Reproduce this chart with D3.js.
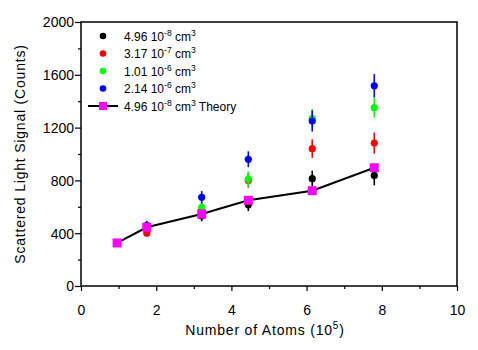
<!DOCTYPE html>
<html>
<head>
<meta charset="utf-8">
<script src="https://cdn.jsdelivr.net/npm/d3@7"></script>
<style>
  body { margin: 0; background: #fff; }
  text { font-family: "Liberation Sans", Arial, sans-serif; }
</style>
</head>
<body>
<svg id="chart"></svg>
<script>
var width = 478;
var height = 350;

// data
var atoms = [1.75, 3.21, 4.45, 6.15, 7.8];
var black = [440, 530, 615, 813, 838];
var blackErr = [30, 40, 48, 60, 75];
var red = [400, 580, 800, 1040, 1083];
var redErr = [25, 40, 55, 70, 80];
var green = [450, 596, 810, 1270, 1351];
var greenErr = [30, 40, 57, 70, 75];
var blue = [460, 672, 960, 1250, 1517];
var blueErr = [35, 47, 60, 80, 88];
var theoryAtoms = [0.96, 1.75, 3.21, 4.45, 6.15, 7.8];
var theory = [326, 445, 545, 649, 722, 896];

var xTicks = [0, 2, 4, 6, 8, 10];
var yTicks = [0, 400, 800, 1200, 1600, 2000];

var series = [
  {name: "4.96", exp: "-8", color: "#000000", vals: black, errs: blackErr},
  {name: "3.17", exp: "-7", color: "#ff0000", vals: red, errs: redErr},
  {name: "1.01", exp: "-6", color: "#00ff00", vals: green, errs: greenErr},
  {name: "2.14", exp: "-6", color: "#0000ff", vals: blue, errs: blueErr}
];

var margin = {left: 81, right: 21, top: 22, bottom: 64};

var svg = d3.select('#chart')
    .attr('width', width)
    .attr('height', height)

var x = d3.scaleLinear().domain([0, 10]).range([margin.left, width - margin.right]);
var y = d3.scaleLinear().domain([0, 2000]).range([height - margin.bottom, margin.top]);

// frame
svg.append('rect')
    .attr('x', x(0)).attr('y', y(2000))
    .attr('width', x(10) - x(0)).attr('height', y(0) - y(2000))
    .style('fill', 'none').style('stroke', 'black').style('stroke-width', 1.5);

// x axis
var xAxis = svg.append('g').attr('transform', 'translate(0,' + y(0) + ')');
xAxis.call(d3.axisBottom(x).tickValues(d3.range(0, 11, 1)).tickSize(5).tickFormat(''));
xAxis.selectAll('.tick line').style('stroke-width', 1.2)
    .attr('y2', function(d){ return d % 2 == 0 ? 5 : 3; });
xAxis.select('.domain').remove();
xAxis.selectAll('.tick')
    .filter(function(d){ return xTicks.indexOf(d) >= 0; })
    .append('text')
    .attr('y', 29).attr('fill', 'black')
    .style('font-size', '14px').style('text-anchor', 'middle')
    .text(function(d){ return d; });

// y axis
var yAxis = svg.append('g').attr('transform', 'translate(' + x(0) + ',0)');
yAxis.call(d3.axisLeft(y).tickValues(d3.range(0, 2001, 200)).tickSize(5).tickFormat(''));
yAxis.selectAll('.tick line').style('stroke-width', 1.2)
    .attr('x2', function(d){ return d % 400 == 0 ? -6 : -3; });
yAxis.select('.domain').remove();
yAxis.selectAll('.tick')
    .filter(function(d){ return yTicks.indexOf(d) >= 0; })
    .append('text')
    .attr('x', -7).attr('dy', '0.35em').attr('fill', 'black')
    .style('font-size', '14px').style('text-anchor', 'end')
    .text(function(d){ return d; });

// axis titles
var xt = svg.append('text')
    .attr('x', 265).attr('y', 335)
    .style('font-size', '14px').style('letter-spacing', '0.8px').style('text-anchor', 'middle')
    .text('Number of Atoms (10');
xt.append('tspan').attr('dy', -6).style('font-size', '10px').text('5');
xt.append('tspan').attr('dy', 6).text(')');

svg.append('text')
    .attr('transform', 'translate(25,' + ((y(0) + y(2000)) / 2) + ') rotate(-90)')
    .style('font-size', '14px').style('letter-spacing', '0.8px').style('text-anchor', 'middle')
    .text('Scattered Light Signal (Counts)');

// data points with error bars
series.forEach(function(s){
  var g = svg.append('g');
  g.selectAll('line')
    .data(s.vals)
    .enter()
    .append('line')
    .attr('x1', function(d, i){ return x(atoms[i]); })
    .attr('x2', function(d, i){ return x(atoms[i]); })
    .attr('y1', function(d, i){ return y(d - s.errs[i]); })
    .attr('y2', function(d, i){ return y(d + s.errs[i]); })
    .style('stroke', s.color)
    .style('stroke-width', 1.6);
  g.selectAll('circle')
    .data(s.vals)
    .enter()
    .append('circle')
    .attr('cx', function(d, i){ return x(atoms[i]); })
    .attr('cy', function(d){ return y(d); })
    .attr('r', 3.6)
    .style('fill', s.color);
});

// theory line
var line = d3.line()
    .x(function(d, i){ return x(theoryAtoms[i]); })
    .y(function(d){ return y(d); });
svg.append('path')
    .datum(theory)
    .attr('d', line)
    .style('fill', 'none').style('stroke', 'black').style('stroke-width', 2);
svg.selectAll('.sq')
    .data(theory)
    .enter()
    .append('rect')
    .attr('class', 'sq')
    .attr('x', function(d, i){ return x(theoryAtoms[i]) - 4.5; })
    .attr('y', function(d){ return y(d) - 4.5; })
    .attr('width', 9).attr('height', 9)
    .style('fill', '#ff00ff');

// legend
var legend = svg.append('g').attr('transform', 'translate(0,36)');
var rowH = 17.5;
series.forEach(function(s, i){
  var row = legend.append('g').attr('transform', 'translate(0,' + (i * rowH) + ')');
  row.append('circle').attr('cx', 103).attr('cy', 0).attr('r', 3.3).style('fill', s.color);
  var t = row.append('text').attr('x', 124).attr('y', 4.5).style('font-size', '12px');
  t.append('tspan').text(s.name + ' 10');
  t.append('tspan').attr('dy', -5).style('font-size', '8.5px').text(s.exp);
  t.append('tspan').attr('dy', 5).text(' cm');
  t.append('tspan').attr('dy', -5).style('font-size', '8.5px').text('3');
});
var trow = legend.append('g').attr('transform', 'translate(0,' + (4 * rowH) + ')');
trow.append('line').attr('x1', 88).attr('x2', 118).attr('y1', 0).attr('y2', 0)
    .style('stroke', 'black').style('stroke-width', 2);
trow.append('rect').attr('x', 99).attr('y', -4).attr('width', 8).attr('height', 8).style('fill', '#ff00ff');
var tt = trow.append('text').attr('x', 124).attr('y', 4.5).style('font-size', '12px');
tt.append('tspan').text('4.96 10');
tt.append('tspan').attr('dy', -5).style('font-size', '8.5px').text('-8');
tt.append('tspan').attr('dy', 5).text(' cm');
tt.append('tspan').attr('dy', -5).style('font-size', '8.5px').text('3');
tt.append('tspan').attr('dy', 5).text(' Theory');
</script>
</body>
</html>
